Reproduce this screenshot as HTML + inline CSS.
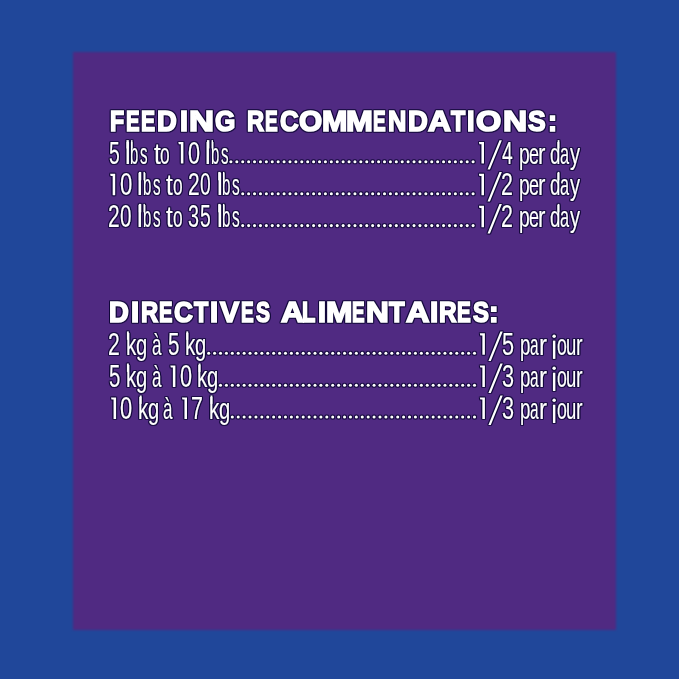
<!DOCTYPE html>
<html><head><meta charset="utf-8">
<style>
html,body{margin:0;padding:0;width:679px;height:679px;overflow:hidden;background:#20479a;}
.box{position:absolute;left:73px;top:52px;width:543px;height:578px;background:#502a82;filter:blur(1.1px);}
.t{position:absolute;white-space:pre;color:#fff;font-family:"Liberation Sans",sans-serif;}
.h{font-weight:bold;font-size:29px;line-height:29px;-webkit-text-stroke:1.7px #fff;transform-origin:0 24px;}
.b{font-size:32px;line-height:32px;-webkit-text-stroke:0.2px #fff;transform-origin:0 27px;}
.c{clip-path:inset(0 0 22.6px 0);}
svg{position:absolute;left:0;top:0;}
.wrap{position:absolute;left:0;top:0;width:679px;height:679px;filter:drop-shadow(1px 0 0 rgba(16,8,56,0.8)) drop-shadow(-1px 0 0 rgba(16,8,56,0.8)) drop-shadow(0 1px 0 rgba(16,8,56,0.8)) drop-shadow(0 -1px 0 rgba(16,8,56,0.8));}
</style></head><body>
<div class="box"></div>
<div class="wrap">
<div class="t h" style="left:109.63px;top:106.80px;transform:scaleX(0.7982)">F</div>
<div class="t h" style="left:125.74px;top:106.80px;transform:scaleX(0.7012)">E</div>
<div class="t h" style="left:141.21px;top:106.80px;transform:scaleX(0.7290)">E</div>
<div class="t h" style="left:157.07px;top:106.80px;transform:scaleX(0.9443)">D</div>
<div class="t h" style="left:179.52px;top:106.80px;transform:scaleX(0.9869)">I</div>
<div class="t h" style="left:189.20px;top:106.80px;transform:scaleX(1.1947)">N</div>
<div class="t h" style="left:215.39px;top:106.80px;transform:scaleX(0.9027)">G</div>
<div class="t h" style="left:246.51px;top:106.80px;transform:scaleX(0.8156)">R</div>
<div class="t h" style="left:265.18px;top:106.80px;transform:scaleX(0.6566)">E</div>
<div class="t h" style="left:279.60px;top:106.80px;transform:scaleX(0.8906)">C</div>
<div class="t h" style="left:299.35px;top:106.80px;transform:scaleX(1.0252)">O</div>
<div class="t h" style="left:321.96px;top:106.80px;transform:scaleX(1.0465)">M</div>
<div class="t h" style="left:346.39px;top:106.80px;transform:scaleX(1.1102)">M</div>
<div class="t h" style="left:373.38px;top:106.80px;transform:scaleX(0.6566)">E</div>
<div class="t h" style="left:387.75px;top:106.80px;transform:scaleX(0.8747)">N</div>
<div class="t h" style="left:407.57px;top:106.80px;transform:scaleX(0.9443)">D</div>
<div class="t h" style="left:427.94px;top:106.80px;transform:scaleX(1.0919)">A</div>
<div class="t h" style="left:450.82px;top:106.80px;transform:scaleX(0.8042)">T</div>
<div class="t h" style="left:467.18px;top:106.80px;transform:scaleX(0.9358)">I</div>
<div class="t h" style="left:476.22px;top:106.80px;transform:scaleX(1.1167)">O</div>
<div class="t h" style="left:503.34px;top:106.80px;transform:scaleX(1.1521)">N</div>
<div class="t h" style="left:528.41px;top:106.80px;transform:scaleX(0.9122)">S</div>
<div class="t h" style="left:547.59px;top:106.80px;transform:scaleX(0.9346)">:</div>
<div class="t h" style="left:109.37px;top:298.30px;transform:scaleX(0.9443)">D</div>
<div class="t h" style="left:131.11px;top:298.30px;transform:scaleX(1.0039)">I</div>
<div class="t h" style="left:140.61px;top:298.30px;transform:scaleX(0.8206)">R</div>
<div class="t h" style="left:158.64px;top:298.30px;transform:scaleX(0.6956)">E</div>
<div class="t h" style="left:173.69px;top:298.30px;transform:scaleX(0.9003)">C</div>
<div class="t h" style="left:193.52px;top:298.30px;transform:scaleX(0.8042)">T</div>
<div class="t h" style="left:209.81px;top:298.30px;transform:scaleX(1.0039)">I</div>
<div class="t h" style="left:219.54px;top:298.30px;transform:scaleX(0.9881)">V</div>
<div class="t h" style="left:241.38px;top:298.30px;transform:scaleX(0.6566)">E</div>
<div class="t h" style="left:256.01px;top:298.30px;transform:scaleX(0.7235)">S</div>
<div class="t h" style="left:280.54px;top:298.30px;transform:scaleX(1.0872)">A</div>
<div class="t h" style="left:302.08px;top:298.30px;transform:scaleX(0.7538)">L</div>
<div class="t h" style="left:317.72px;top:298.30px;transform:scaleX(0.9869)">I</div>
<div class="t h" style="left:326.21px;top:298.30px;transform:scaleX(1.0920)">M</div>
<div class="t h" style="left:352.39px;top:298.30px;transform:scaleX(0.6511)">E</div>
<div class="t h" style="left:366.41px;top:298.30px;transform:scaleX(1.0881)">N</div>
<div class="t h" style="left:389.26px;top:298.30px;transform:scaleX(0.8787)">T</div>
<div class="t h" style="left:405.54px;top:298.30px;transform:scaleX(1.1202)">A</div>
<div class="t h" style="left:429.59px;top:298.30px;transform:scaleX(1.0209)">I</div>
<div class="t h" style="left:438.58px;top:298.30px;transform:scaleX(0.8405)">R</div>
<div class="t h" style="left:457.02px;top:298.30px;transform:scaleX(0.7123)">E</div>
<div class="t h" style="left:472.51px;top:298.30px;transform:scaleX(0.8231)">S</div>
<div class="t h" style="left:488.89px;top:298.30px;transform:scaleX(0.9865)">:</div>
<div class="t b" style="left:108.89px;top:136.50px;transform:scaleX(0.6050)">5</div>
<div class="t b" style="left:124.81px;top:136.50px;transform:scale(0.7967,0.900)">l</div>
<div class="t b" style="left:130.19px;top:136.50px;transform:scale(0.4661,0.900)">b</div>
<div class="t b" style="left:140.13px;top:136.50px;transform:scale(0.4734,0.900)">s</div>
<div class="t b" style="left:154.01px;top:136.50px;transform:scale(0.7645,0.920)">t</div>
<div class="t b" style="left:160.43px;top:136.50px;transform:scale(0.5422,0.900)">o</div>
<div class="t b" style="left:187.62px;top:136.50px;transform:scaleX(0.6776)">0</div>
<div class="t b" style="left:205.31px;top:136.50px;transform:scale(0.7967,0.900)">l</div>
<div class="t b" style="left:210.69px;top:136.50px;transform:scale(0.4661,0.900)">b</div>
<div class="t b" style="left:220.63px;top:136.50px;transform:scale(0.4734,0.900)">s</div>
<div class="t b" style="left:501.92px;top:136.50px;transform:scaleX(0.6064)">4</div>
<div class="t b" style="left:518.62px;top:136.50px;transform:scale(0.6031,0.900)">p</div>
<div class="t b" style="left:529.09px;top:136.50px;transform:scale(0.5652,0.900)">e</div>
<div class="t b" style="left:537.59px;top:136.50px;transform:scale(0.6951,0.900)">r</div>
<div class="t b" style="left:550.18px;top:136.50px;transform:scale(0.5826,0.900)">d</div>
<div class="t b" style="left:560.06px;top:136.50px;transform:scale(0.5109,0.900)">a</div>
<div class="t b" style="left:569.51px;top:136.50px;transform:scale(0.6289,0.900)">y</div>
<div class="t b" style="left:119.51px;top:168.30px;transform:scaleX(0.6905)">0</div>
<div class="t b" style="left:137.21px;top:168.30px;transform:scale(0.7967,0.900)">l</div>
<div class="t b" style="left:142.59px;top:168.30px;transform:scale(0.4661,0.900)">b</div>
<div class="t b" style="left:152.53px;top:168.30px;transform:scale(0.4734,0.900)">s</div>
<div class="t b" style="left:166.31px;top:168.30px;transform:scale(0.7645,0.920)">t</div>
<div class="t b" style="left:172.73px;top:168.30px;transform:scale(0.5422,0.900)">o</div>
<div class="t b" style="left:188.11px;top:168.30px;transform:scaleX(0.6564)">2</div>
<div class="t b" style="left:199.91px;top:168.30px;transform:scaleX(0.6001)">0</div>
<div class="t b" style="left:216.59px;top:168.30px;transform:scale(0.8118,0.900)">l</div>
<div class="t b" style="left:222.06px;top:168.30px;transform:scale(0.4749,0.900)">b</div>
<div class="t b" style="left:232.19px;top:168.30px;transform:scale(0.4824,0.900)">s</div>
<div class="t b" style="left:501.29px;top:168.30px;transform:scaleX(0.6699)">2</div>
<div class="t b" style="left:518.62px;top:168.30px;transform:scale(0.6031,0.900)">p</div>
<div class="t b" style="left:529.09px;top:168.30px;transform:scale(0.5652,0.900)">e</div>
<div class="t b" style="left:537.59px;top:168.30px;transform:scale(0.6951,0.900)">r</div>
<div class="t b" style="left:550.18px;top:168.30px;transform:scale(0.5826,0.900)">d</div>
<div class="t b" style="left:560.06px;top:168.30px;transform:scale(0.5109,0.900)">a</div>
<div class="t b" style="left:569.51px;top:168.30px;transform:scale(0.6289,0.900)">y</div>
<div class="t b" style="left:108.31px;top:200.30px;transform:scaleX(0.6564)">2</div>
<div class="t b" style="left:120.26px;top:200.30px;transform:scaleX(0.6453)">0</div>
<div class="t b" style="left:137.21px;top:200.30px;transform:scale(0.7967,0.900)">l</div>
<div class="t b" style="left:142.59px;top:200.30px;transform:scale(0.4661,0.900)">b</div>
<div class="t b" style="left:152.53px;top:200.30px;transform:scale(0.4734,0.900)">s</div>
<div class="t b" style="left:166.31px;top:200.30px;transform:scale(0.7645,0.920)">t</div>
<div class="t b" style="left:172.73px;top:200.30px;transform:scale(0.5422,0.900)">o</div>
<div class="t b" style="left:188.41px;top:200.30px;transform:scaleX(0.6180)">3</div>
<div class="t b" style="left:199.89px;top:200.30px;transform:scaleX(0.6050)">5</div>
<div class="t b" style="left:216.59px;top:200.30px;transform:scale(0.8118,0.900)">l</div>
<div class="t b" style="left:222.06px;top:200.30px;transform:scale(0.4749,0.900)">b</div>
<div class="t b" style="left:232.19px;top:200.30px;transform:scale(0.4824,0.900)">s</div>
<div class="t b" style="left:501.29px;top:200.30px;transform:scaleX(0.6699)">2</div>
<div class="t b" style="left:518.62px;top:200.30px;transform:scale(0.6031,0.900)">p</div>
<div class="t b" style="left:529.09px;top:200.30px;transform:scale(0.5652,0.900)">e</div>
<div class="t b" style="left:537.59px;top:200.30px;transform:scale(0.6951,0.900)">r</div>
<div class="t b" style="left:550.18px;top:200.30px;transform:scale(0.5826,0.900)">d</div>
<div class="t b" style="left:560.06px;top:200.30px;transform:scale(0.5109,0.900)">a</div>
<div class="t b" style="left:569.51px;top:200.30px;transform:scale(0.6289,0.900)">y</div>
<div class="t b" style="left:108.30px;top:327.80px;transform:scaleX(0.6631)">2</div>
<div class="t b" style="left:125.57px;top:327.80px;transform:scale(0.6458,0.900)">k</div>
<div class="t b" style="left:135.52px;top:327.80px;transform:scale(0.6305,0.900)">g</div>
<div class="t b" style="left:151.73px;top:327.80px;transform:scale(0.5289,0.900)">à</div>
<div class="t b" style="left:167.94px;top:327.80px;transform:scaleX(0.6440)">5</div>
<div class="t b" style="left:184.97px;top:327.80px;transform:scale(0.6458,0.900)">k</div>
<div class="t b" style="left:194.92px;top:327.80px;transform:scale(0.6305,0.900)">g</div>
<div class="t b" style="left:502.40px;top:327.80px;transform:scaleX(0.6766)">5</div>
<div class="t b" style="left:520.06px;top:327.80px;transform:scale(0.5826,0.900)">p</div>
<div class="t b" style="left:530.09px;top:327.80px;transform:scale(0.4808,0.900)">a</div>
<div class="t b" style="left:538.57px;top:327.80px;transform:scale(0.7561,0.900)">r</div>
<div class="t b" style="left:556.69px;top:327.80px;transform:scale(0.5533,0.900)">o</div>
<div class="t b" style="left:566.21px;top:327.80px;transform:scale(0.5780,0.900)">u</div>
<div class="t b" style="left:575.56px;top:327.80px;transform:scale(0.6199,0.900)">r</div>
<div class="t b" style="left:108.55px;top:359.90px;transform:scaleX(0.6375)">5</div>
<div class="t b" style="left:125.57px;top:359.90px;transform:scale(0.6458,0.900)">k</div>
<div class="t b" style="left:135.52px;top:359.90px;transform:scale(0.6305,0.900)">g</div>
<div class="t b" style="left:151.73px;top:359.90px;transform:scale(0.5289,0.900)">à</div>
<div class="t b" style="left:179.72px;top:359.90px;transform:scaleX(0.6776)">0</div>
<div class="t b" style="left:197.27px;top:359.90px;transform:scale(0.6458,0.900)">k</div>
<div class="t b" style="left:207.22px;top:359.90px;transform:scale(0.6305,0.900)">g</div>
<div class="t b" style="left:502.44px;top:359.90px;transform:scaleX(0.6766)">3</div>
<div class="t b" style="left:520.06px;top:359.90px;transform:scale(0.5826,0.900)">p</div>
<div class="t b" style="left:530.09px;top:359.90px;transform:scale(0.4808,0.900)">a</div>
<div class="t b" style="left:538.57px;top:359.90px;transform:scale(0.7561,0.900)">r</div>
<div class="t b" style="left:556.69px;top:359.90px;transform:scale(0.5533,0.900)">o</div>
<div class="t b" style="left:566.21px;top:359.90px;transform:scale(0.5780,0.900)">u</div>
<div class="t b" style="left:575.56px;top:359.90px;transform:scale(0.6199,0.900)">r</div>
<div class="t b" style="left:120.41px;top:391.90px;transform:scaleX(0.6840)">0</div>
<div class="t b" style="left:138.37px;top:391.90px;transform:scale(0.6458,0.900)">k</div>
<div class="t b" style="left:148.32px;top:391.90px;transform:scale(0.6305,0.900)">g</div>
<div class="t b" style="left:163.13px;top:391.90px;transform:scale(0.5289,0.900)">à</div>
<div class="t b" style="left:190.97px;top:391.90px;transform:scaleX(0.6713)">7</div>
<div class="t b" style="left:209.17px;top:391.90px;transform:scale(0.6458,0.900)">k</div>
<div class="t b" style="left:219.12px;top:391.90px;transform:scale(0.6305,0.900)">g</div>
<div class="t b" style="left:502.44px;top:391.90px;transform:scaleX(0.6766)">3</div>
<div class="t b" style="left:520.06px;top:391.90px;transform:scale(0.5826,0.900)">p</div>
<div class="t b" style="left:530.09px;top:391.90px;transform:scale(0.4808,0.900)">a</div>
<div class="t b" style="left:538.57px;top:391.90px;transform:scale(0.7561,0.900)">r</div>
<div class="t b" style="left:556.69px;top:391.90px;transform:scale(0.5533,0.900)">o</div>
<div class="t b" style="left:566.21px;top:391.90px;transform:scale(0.5780,0.900)">u</div>
<div class="t b" style="left:575.56px;top:391.90px;transform:scale(0.6199,0.900)">r</div>
<svg width="679" height="679" fill="#fff"><rect x="552.89" y="340.60" width="2.50" height="18.30"/><circle cx="554.14" cy="336.20" r="1.75"/><rect x="552.89" y="372.70" width="2.50" height="18.30"/><circle cx="554.14" cy="368.30" r="1.75"/><rect x="552.89" y="404.70" width="2.50" height="18.30"/><circle cx="554.14" cy="400.30" r="1.75"/><rect x="126.45" y="140.10" width="2.40" height="8.40"/><rect x="131.10" y="140.10" width="1.40" height="8.40"/><rect x="206.95" y="140.10" width="2.40" height="8.40"/><rect x="211.60" y="140.10" width="1.40" height="8.40"/><rect x="557.65" y="140.10" width="1.75" height="8.40"/><rect x="138.85" y="171.90" width="2.40" height="8.40"/><rect x="143.50" y="171.90" width="1.40" height="8.40"/><rect x="218.26" y="171.90" width="2.45" height="8.40"/><rect x="222.99" y="171.90" width="1.43" height="8.40"/><rect x="557.65" y="171.90" width="1.75" height="8.40"/><rect x="138.85" y="203.90" width="2.40" height="8.40"/><rect x="143.50" y="203.90" width="1.40" height="8.40"/><rect x="218.26" y="203.90" width="2.45" height="8.40"/><rect x="222.99" y="203.90" width="1.43" height="8.40"/><rect x="557.65" y="203.90" width="1.75" height="8.40"/><rect x="126.90" y="331.40" width="1.95" height="8.40"/><rect x="186.30" y="331.40" width="1.95" height="8.40"/><rect x="126.90" y="363.50" width="1.95" height="8.40"/><rect x="198.60" y="363.50" width="1.95" height="8.40"/><rect x="139.70" y="395.50" width="1.95" height="8.40"/><rect x="210.50" y="395.50" width="1.95" height="8.40"/><path d="M178.30 142.00H183.40V163.50H180.85V144.20H178.80Z"/><path d="M478.90 142.00H484.00V163.50H481.45V144.20H479.40Z"/><path d="M110.10 173.80H115.20V195.30H112.65V176.00H110.60Z"/><path d="M478.90 173.80H484.00V195.30H481.45V176.00H479.40Z"/><path d="M478.90 205.80H484.00V227.30H481.45V208.00H479.40Z"/><path d="M479.80 333.30H484.90V354.80H482.35V335.50H480.30Z"/><path d="M170.30 365.40H175.40V386.90H172.85V367.60H170.80Z"/><path d="M479.80 365.40H484.90V386.90H482.35V367.60H480.30Z"/><path d="M111.00 397.40H116.10V418.90H113.55V399.60H111.50Z"/><path d="M181.90 397.40H187.00V418.90H184.45V399.60H182.40Z"/><path d="M479.80 397.40H484.90V418.90H482.35V399.60H480.30Z"/><path d="M487.50 169.60H489.90L501.90 140.20H499.50Z"/><path d="M487.50 201.40H489.90L501.90 172.00H499.50Z"/><path d="M487.50 233.40H489.90L501.90 204.00H499.50Z"/><path d="M488.40 360.90H490.80L502.80 331.50H500.40Z"/><path d="M488.40 393.00H490.80L502.80 363.60H500.40Z"/><path d="M488.40 425.00H490.80L502.80 395.60H500.40Z"/><circle cx="473.10" cy="161.8" r="1.55"/><circle cx="467.19" cy="161.8" r="1.55"/><circle cx="461.29" cy="161.8" r="1.55"/><circle cx="455.38" cy="161.8" r="1.55"/><circle cx="449.47" cy="161.8" r="1.55"/><circle cx="443.56" cy="161.8" r="1.55"/><circle cx="437.66" cy="161.8" r="1.55"/><circle cx="431.75" cy="161.8" r="1.55"/><circle cx="425.84" cy="161.8" r="1.55"/><circle cx="419.94" cy="161.8" r="1.55"/><circle cx="414.03" cy="161.8" r="1.55"/><circle cx="408.12" cy="161.8" r="1.55"/><circle cx="402.22" cy="161.8" r="1.55"/><circle cx="396.31" cy="161.8" r="1.55"/><circle cx="390.40" cy="161.8" r="1.55"/><circle cx="384.50" cy="161.8" r="1.55"/><circle cx="378.59" cy="161.8" r="1.55"/><circle cx="372.68" cy="161.8" r="1.55"/><circle cx="366.77" cy="161.8" r="1.55"/><circle cx="360.87" cy="161.8" r="1.55"/><circle cx="354.96" cy="161.8" r="1.55"/><circle cx="349.05" cy="161.8" r="1.55"/><circle cx="343.15" cy="161.8" r="1.55"/><circle cx="337.24" cy="161.8" r="1.55"/><circle cx="331.33" cy="161.8" r="1.55"/><circle cx="325.43" cy="161.8" r="1.55"/><circle cx="319.52" cy="161.8" r="1.55"/><circle cx="313.61" cy="161.8" r="1.55"/><circle cx="307.70" cy="161.8" r="1.55"/><circle cx="301.80" cy="161.8" r="1.55"/><circle cx="295.89" cy="161.8" r="1.55"/><circle cx="289.98" cy="161.8" r="1.55"/><circle cx="284.08" cy="161.8" r="1.55"/><circle cx="278.17" cy="161.8" r="1.55"/><circle cx="272.26" cy="161.8" r="1.55"/><circle cx="266.36" cy="161.8" r="1.55"/><circle cx="260.45" cy="161.8" r="1.55"/><circle cx="254.54" cy="161.8" r="1.55"/><circle cx="248.63" cy="161.8" r="1.55"/><circle cx="242.73" cy="161.8" r="1.55"/><circle cx="236.82" cy="161.8" r="1.55"/><circle cx="230.91" cy="161.8" r="1.55"/><circle cx="473.10" cy="193.8" r="1.55"/><circle cx="467.19" cy="193.8" r="1.55"/><circle cx="461.29" cy="193.8" r="1.55"/><circle cx="455.38" cy="193.8" r="1.55"/><circle cx="449.47" cy="193.8" r="1.55"/><circle cx="443.56" cy="193.8" r="1.55"/><circle cx="437.66" cy="193.8" r="1.55"/><circle cx="431.75" cy="193.8" r="1.55"/><circle cx="425.84" cy="193.8" r="1.55"/><circle cx="419.94" cy="193.8" r="1.55"/><circle cx="414.03" cy="193.8" r="1.55"/><circle cx="408.12" cy="193.8" r="1.55"/><circle cx="402.22" cy="193.8" r="1.55"/><circle cx="396.31" cy="193.8" r="1.55"/><circle cx="390.40" cy="193.8" r="1.55"/><circle cx="384.50" cy="193.8" r="1.55"/><circle cx="378.59" cy="193.8" r="1.55"/><circle cx="372.68" cy="193.8" r="1.55"/><circle cx="366.77" cy="193.8" r="1.55"/><circle cx="360.87" cy="193.8" r="1.55"/><circle cx="354.96" cy="193.8" r="1.55"/><circle cx="349.05" cy="193.8" r="1.55"/><circle cx="343.15" cy="193.8" r="1.55"/><circle cx="337.24" cy="193.8" r="1.55"/><circle cx="331.33" cy="193.8" r="1.55"/><circle cx="325.43" cy="193.8" r="1.55"/><circle cx="319.52" cy="193.8" r="1.55"/><circle cx="313.61" cy="193.8" r="1.55"/><circle cx="307.70" cy="193.8" r="1.55"/><circle cx="301.80" cy="193.8" r="1.55"/><circle cx="295.89" cy="193.8" r="1.55"/><circle cx="289.98" cy="193.8" r="1.55"/><circle cx="284.08" cy="193.8" r="1.55"/><circle cx="278.17" cy="193.8" r="1.55"/><circle cx="272.26" cy="193.8" r="1.55"/><circle cx="266.36" cy="193.8" r="1.55"/><circle cx="260.45" cy="193.8" r="1.55"/><circle cx="254.54" cy="193.8" r="1.55"/><circle cx="248.63" cy="193.8" r="1.55"/><circle cx="242.73" cy="193.8" r="1.55"/><circle cx="473.10" cy="225.6" r="1.55"/><circle cx="467.19" cy="225.6" r="1.55"/><circle cx="461.29" cy="225.6" r="1.55"/><circle cx="455.38" cy="225.6" r="1.55"/><circle cx="449.47" cy="225.6" r="1.55"/><circle cx="443.56" cy="225.6" r="1.55"/><circle cx="437.66" cy="225.6" r="1.55"/><circle cx="431.75" cy="225.6" r="1.55"/><circle cx="425.84" cy="225.6" r="1.55"/><circle cx="419.94" cy="225.6" r="1.55"/><circle cx="414.03" cy="225.6" r="1.55"/><circle cx="408.12" cy="225.6" r="1.55"/><circle cx="402.22" cy="225.6" r="1.55"/><circle cx="396.31" cy="225.6" r="1.55"/><circle cx="390.40" cy="225.6" r="1.55"/><circle cx="384.50" cy="225.6" r="1.55"/><circle cx="378.59" cy="225.6" r="1.55"/><circle cx="372.68" cy="225.6" r="1.55"/><circle cx="366.77" cy="225.6" r="1.55"/><circle cx="360.87" cy="225.6" r="1.55"/><circle cx="354.96" cy="225.6" r="1.55"/><circle cx="349.05" cy="225.6" r="1.55"/><circle cx="343.15" cy="225.6" r="1.55"/><circle cx="337.24" cy="225.6" r="1.55"/><circle cx="331.33" cy="225.6" r="1.55"/><circle cx="325.43" cy="225.6" r="1.55"/><circle cx="319.52" cy="225.6" r="1.55"/><circle cx="313.61" cy="225.6" r="1.55"/><circle cx="307.70" cy="225.6" r="1.55"/><circle cx="301.80" cy="225.6" r="1.55"/><circle cx="295.89" cy="225.6" r="1.55"/><circle cx="289.98" cy="225.6" r="1.55"/><circle cx="284.08" cy="225.6" r="1.55"/><circle cx="278.17" cy="225.6" r="1.55"/><circle cx="272.26" cy="225.6" r="1.55"/><circle cx="266.36" cy="225.6" r="1.55"/><circle cx="260.45" cy="225.6" r="1.55"/><circle cx="254.54" cy="225.6" r="1.55"/><circle cx="248.63" cy="225.6" r="1.55"/><circle cx="242.73" cy="225.6" r="1.55"/><circle cx="474.50" cy="353.3" r="1.55"/><circle cx="468.59" cy="353.3" r="1.55"/><circle cx="462.69" cy="353.3" r="1.55"/><circle cx="456.78" cy="353.3" r="1.55"/><circle cx="450.87" cy="353.3" r="1.55"/><circle cx="444.96" cy="353.3" r="1.55"/><circle cx="439.06" cy="353.3" r="1.55"/><circle cx="433.15" cy="353.3" r="1.55"/><circle cx="427.24" cy="353.3" r="1.55"/><circle cx="421.34" cy="353.3" r="1.55"/><circle cx="415.43" cy="353.3" r="1.55"/><circle cx="409.52" cy="353.3" r="1.55"/><circle cx="403.62" cy="353.3" r="1.55"/><circle cx="397.71" cy="353.3" r="1.55"/><circle cx="391.80" cy="353.3" r="1.55"/><circle cx="385.89" cy="353.3" r="1.55"/><circle cx="379.99" cy="353.3" r="1.55"/><circle cx="374.08" cy="353.3" r="1.55"/><circle cx="368.17" cy="353.3" r="1.55"/><circle cx="362.27" cy="353.3" r="1.55"/><circle cx="356.36" cy="353.3" r="1.55"/><circle cx="350.45" cy="353.3" r="1.55"/><circle cx="344.55" cy="353.3" r="1.55"/><circle cx="338.64" cy="353.3" r="1.55"/><circle cx="332.73" cy="353.3" r="1.55"/><circle cx="326.82" cy="353.3" r="1.55"/><circle cx="320.92" cy="353.3" r="1.55"/><circle cx="315.01" cy="353.3" r="1.55"/><circle cx="309.10" cy="353.3" r="1.55"/><circle cx="303.20" cy="353.3" r="1.55"/><circle cx="297.29" cy="353.3" r="1.55"/><circle cx="291.38" cy="353.3" r="1.55"/><circle cx="285.48" cy="353.3" r="1.55"/><circle cx="279.57" cy="353.3" r="1.55"/><circle cx="273.66" cy="353.3" r="1.55"/><circle cx="267.75" cy="353.3" r="1.55"/><circle cx="261.85" cy="353.3" r="1.55"/><circle cx="255.94" cy="353.3" r="1.55"/><circle cx="250.03" cy="353.3" r="1.55"/><circle cx="244.13" cy="353.3" r="1.55"/><circle cx="238.22" cy="353.3" r="1.55"/><circle cx="232.31" cy="353.3" r="1.55"/><circle cx="226.41" cy="353.3" r="1.55"/><circle cx="220.50" cy="353.3" r="1.55"/><circle cx="214.59" cy="353.3" r="1.55"/><circle cx="208.69" cy="353.3" r="1.55"/><circle cx="474.50" cy="385.2" r="1.55"/><circle cx="468.59" cy="385.2" r="1.55"/><circle cx="462.69" cy="385.2" r="1.55"/><circle cx="456.78" cy="385.2" r="1.55"/><circle cx="450.87" cy="385.2" r="1.55"/><circle cx="444.96" cy="385.2" r="1.55"/><circle cx="439.06" cy="385.2" r="1.55"/><circle cx="433.15" cy="385.2" r="1.55"/><circle cx="427.24" cy="385.2" r="1.55"/><circle cx="421.34" cy="385.2" r="1.55"/><circle cx="415.43" cy="385.2" r="1.55"/><circle cx="409.52" cy="385.2" r="1.55"/><circle cx="403.62" cy="385.2" r="1.55"/><circle cx="397.71" cy="385.2" r="1.55"/><circle cx="391.80" cy="385.2" r="1.55"/><circle cx="385.89" cy="385.2" r="1.55"/><circle cx="379.99" cy="385.2" r="1.55"/><circle cx="374.08" cy="385.2" r="1.55"/><circle cx="368.17" cy="385.2" r="1.55"/><circle cx="362.27" cy="385.2" r="1.55"/><circle cx="356.36" cy="385.2" r="1.55"/><circle cx="350.45" cy="385.2" r="1.55"/><circle cx="344.55" cy="385.2" r="1.55"/><circle cx="338.64" cy="385.2" r="1.55"/><circle cx="332.73" cy="385.2" r="1.55"/><circle cx="326.82" cy="385.2" r="1.55"/><circle cx="320.92" cy="385.2" r="1.55"/><circle cx="315.01" cy="385.2" r="1.55"/><circle cx="309.10" cy="385.2" r="1.55"/><circle cx="303.20" cy="385.2" r="1.55"/><circle cx="297.29" cy="385.2" r="1.55"/><circle cx="291.38" cy="385.2" r="1.55"/><circle cx="285.48" cy="385.2" r="1.55"/><circle cx="279.57" cy="385.2" r="1.55"/><circle cx="273.66" cy="385.2" r="1.55"/><circle cx="267.75" cy="385.2" r="1.55"/><circle cx="261.85" cy="385.2" r="1.55"/><circle cx="255.94" cy="385.2" r="1.55"/><circle cx="250.03" cy="385.2" r="1.55"/><circle cx="244.13" cy="385.2" r="1.55"/><circle cx="238.22" cy="385.2" r="1.55"/><circle cx="232.31" cy="385.2" r="1.55"/><circle cx="226.41" cy="385.2" r="1.55"/><circle cx="220.50" cy="385.2" r="1.55"/><circle cx="474.50" cy="417.0" r="1.55"/><circle cx="468.59" cy="417.0" r="1.55"/><circle cx="462.69" cy="417.0" r="1.55"/><circle cx="456.78" cy="417.0" r="1.55"/><circle cx="450.87" cy="417.0" r="1.55"/><circle cx="444.96" cy="417.0" r="1.55"/><circle cx="439.06" cy="417.0" r="1.55"/><circle cx="433.15" cy="417.0" r="1.55"/><circle cx="427.24" cy="417.0" r="1.55"/><circle cx="421.34" cy="417.0" r="1.55"/><circle cx="415.43" cy="417.0" r="1.55"/><circle cx="409.52" cy="417.0" r="1.55"/><circle cx="403.62" cy="417.0" r="1.55"/><circle cx="397.71" cy="417.0" r="1.55"/><circle cx="391.80" cy="417.0" r="1.55"/><circle cx="385.89" cy="417.0" r="1.55"/><circle cx="379.99" cy="417.0" r="1.55"/><circle cx="374.08" cy="417.0" r="1.55"/><circle cx="368.17" cy="417.0" r="1.55"/><circle cx="362.27" cy="417.0" r="1.55"/><circle cx="356.36" cy="417.0" r="1.55"/><circle cx="350.45" cy="417.0" r="1.55"/><circle cx="344.55" cy="417.0" r="1.55"/><circle cx="338.64" cy="417.0" r="1.55"/><circle cx="332.73" cy="417.0" r="1.55"/><circle cx="326.82" cy="417.0" r="1.55"/><circle cx="320.92" cy="417.0" r="1.55"/><circle cx="315.01" cy="417.0" r="1.55"/><circle cx="309.10" cy="417.0" r="1.55"/><circle cx="303.20" cy="417.0" r="1.55"/><circle cx="297.29" cy="417.0" r="1.55"/><circle cx="291.38" cy="417.0" r="1.55"/><circle cx="285.48" cy="417.0" r="1.55"/><circle cx="279.57" cy="417.0" r="1.55"/><circle cx="273.66" cy="417.0" r="1.55"/><circle cx="267.75" cy="417.0" r="1.55"/><circle cx="261.85" cy="417.0" r="1.55"/><circle cx="255.94" cy="417.0" r="1.55"/><circle cx="250.03" cy="417.0" r="1.55"/><circle cx="244.13" cy="417.0" r="1.55"/><circle cx="238.22" cy="417.0" r="1.55"/><circle cx="232.31" cy="417.0" r="1.55"/></svg>
</div>
</body></html>
